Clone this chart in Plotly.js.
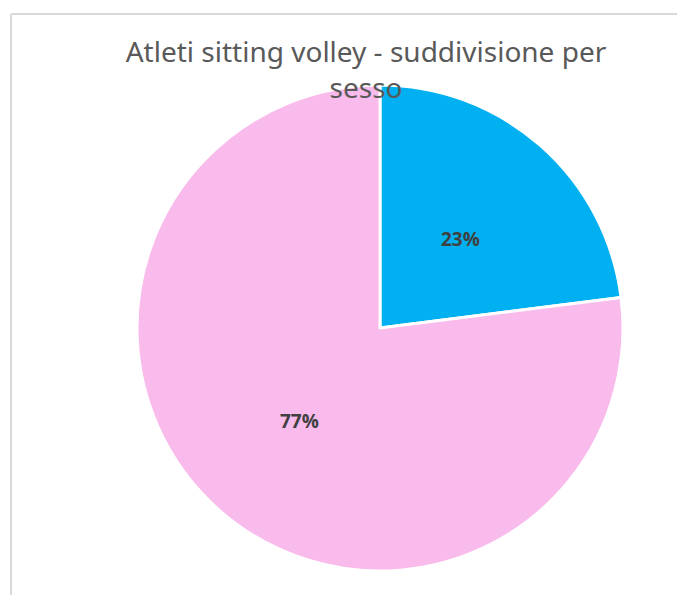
<!DOCTYPE html>
<html>
<head>
<meta charset="utf-8">
<script src="https://cdn.plot.ly/plotly-3.0.1.min.js"></script>
<style>html,body{margin:0;padding:0;background:#fff;}#chart{width:677px;height:595px;}</style>
</head>
<body>
<div id="chart"></div>
<script>
const categories = ['Maschi', 'Femmine'];
const values = [23, 77];
const colors = ['#00B0F0', '#F9BBEB'];
const titleText = 'Atleti sitting volley - suddivisione per<br>sesso';

const W = 677, H = 595;
const cx = 380, cy = 328, r = 243;
const domX = [(cx - r) / W, (cx + r) / W];
const domY = [(H - cy - r) / H, (H - cy + r) / H];

const data = [{
  type: 'pie',
  labels: categories,
  values: values,
  sort: false,
  direction: 'clockwise',
  rotation: 0,
  marker: {colors: colors, line: {color: '#ffffff', width: 3}},
  textinfo: 'none',
  hoverinfo: 'label+percent',
  showlegend: false,
  domain: {x: domX, y: domY}
}];

// percentage labels placed at half radius along each slice's mid-angle
const total = values.reduce((a, b) => a + b, 0);
let cum = 0;
const annotations = values.map((v) => {
  const mid = (cum + v / 2) / total;
  cum += v;
  const ang = mid * 2 * Math.PI;
  const rr = 0.5 * r;
  return {
    xref: 'paper', yref: 'paper',
    x: (cx + rr * Math.sin(ang)) / W,
    y: (H - cy - 2 + rr * Math.cos(ang)) / H,
    text: Math.round(v / total * 100) + '%',
    showarrow: false,
    xanchor: 'center', yanchor: 'middle',
    font: {family: 'Open Sans, sans-serif', size: 19, color: '#404040', weight: 'bold'}
  };
});

const layout = {
  width: W, height: H,
  margin: {l: 0, r: 0, t: 0, b: 0},
  paper_bgcolor: '#ffffff',
  showlegend: false,
  title: {
    text: titleText,
    x: 366 / W, xanchor: 'center', xref: 'paper',
    y: 1 - 62 / H, yanchor: 'top', yref: 'container',
    font: {family: 'Noto Sans, sans-serif', size: 28, color: '#595959'}
  },
  annotations: annotations,
  shapes: [
    {type: 'line', xref: 'paper', yref: 'paper', x0: 11 / W, x1: 1, y0: 1 - 14 / H, y1: 1 - 14 / H, line: {color: '#D9D9D9', width: 2}},
    {type: 'line', xref: 'paper', yref: 'paper', x0: 11 / W, x1: 11 / W, y0: 0, y1: 1 - 14 / H, line: {color: '#D9D9D9', width: 2}}
  ]
};

Plotly.newPlot('chart', data, layout, {displayModeBar: false, staticPlot: true});
</script>
</body>
</html>
